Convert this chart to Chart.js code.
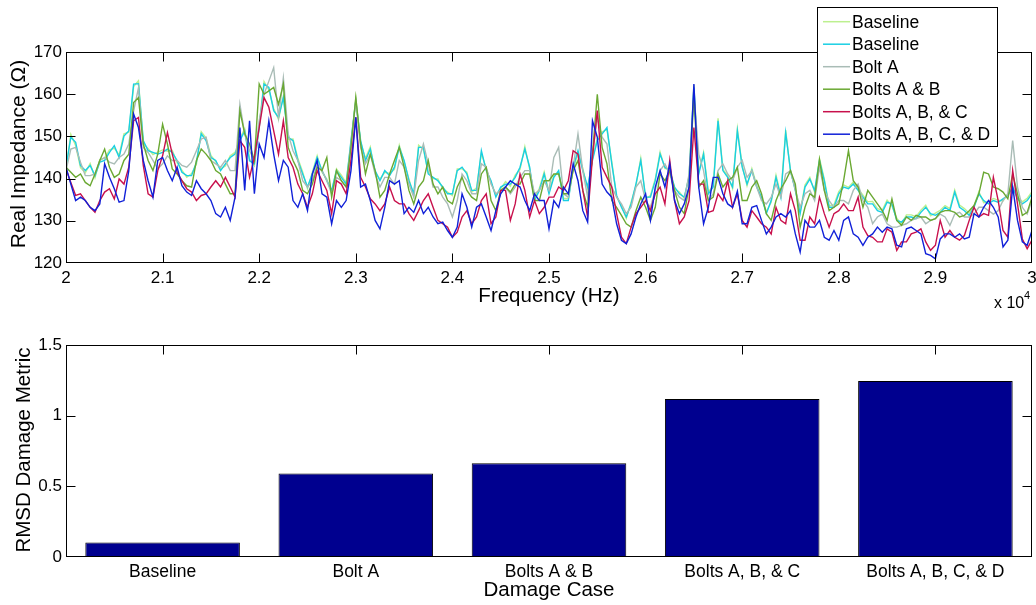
<!DOCTYPE html>
<html>
<head>
<meta charset="utf-8">
<script src="https://cdn.jsdelivr.net/npm/chart.js@4.4.1/dist/chart.umd.min.js"></script>
<style>
  html, body { margin: 0; padding: 0; background: #fff; }
  #wrap { position: relative; width: 1036px; height: 605px; overflow: hidden; }
  canvas { position: absolute; left: 0; }
</style>
</head>
<body>
<div id="wrap">
  <canvas id="impChart" width="1036" height="315" style="top:0"></canvas>
  <canvas id="rmsdChart" width="1036" height="290" style="top:315px"></canvas>
</div>
<script>
// frequency grid, 20 kHz .. 30 kHz every 50 Hz
var freqStart = 20000, freqStep = 50, freqCount = 201;
var freqs = [];
for (var i = 0; i < freqCount; i++) freqs.push(freqStart + i * freqStep);

var seriesLabels = ['Baseline', 'Baseline', 'Bolt A', 'Bolts A & B', 'Bolts A, B, & C', 'Bolts A, B, C, & D'];
var seriesColors = ['#bdf08f', '#19cfe3', '#a9bcb6', '#6aa832', '#c8104c', '#1020d8'];

// real impedance (ohm)
var baselineA = [
  142.2,150.5,147.8,142.6,141.4,143.6,140.2,144.5,144.8,146.8,147.2,145.6,150.6,151.0,161.8,163.2,148.4,147.1,145.7,146.3,146.8,146.5,146.7,143.8,142.0,140.3,141.2,143.4,151.1,
  149.6,145.5,144.0,142.3,143.0,145.4,146.2,149.5,151.8,144.6,143.0,152.6,163.0,161.0,156.6,154.0,159.6,149.3,149.4,144.8,141.6,137.6,141.5,145.4,141.5,139.9,136.8,142.3,
  140.8,139.0,148.5,159.0,148.6,144.8,147.5,141.4,139.9,141.5,141.2,142.2,147.9,144.0,139.9,136.0,147.9,146.9,141.5,140.0,139.9,137.6,136.8,136.0,142.3,142.3,141.5,136.8,
  137.8,146.0,142.4,139.0,136.1,137.6,139.3,138.2,140.8,142.2,147.6,142.2,135.4,137.7,141.6,136.9,140.8,141.4,135.3,135.3,142.2,146.1,142.4,137.5,144.8,149.5,151.1,151.6,
  144.0,135.6,133.6,130.6,134.4,138.3,144.8,135.2,136.0,139.9,146.3,142.4,142.3,137.6,136.8,135.3,140.7,162.2,141.5,146.2,136.8,138.4,154.3,142.2,140.7,137.7,151.8,143.1,
  138.3,142.4,138.5,135.2,132.2,134.4,140.8,136.1,151.5,141.6,137.7,132.2,138.5,140.3,136.8,144.8,139.9,133.6,133.8,136.9,138.5,137.9,139.2,137.6,136.1,134.5,134.6,132.9,
  132.5,134.9,133.5,130.6,129.2,131.4,131.4,131.0,132.5,133.7,131.2,131.8,132.5,133.6,132.9,137.3,133.7,132.9,131.8,133.6,136.9,134.3,134.5,135.3,134.9,134.7,136.5,137.5,135.7,134.5,135.3,136.9
];
var baselineB = [
  142.7,149.8,148.6,143.1,141.9,143.1,140.7,143.9,144.3,146.2,147.8,145.0,150.1,151.3,162.4,162.5,149.0,146.6,146.2,145.8,146.2,147.0,146.2,144.3,141.5,140.7,140.7,143.9,150.6,
  149.0,145.0,144.3,141.9,143.5,145.0,145.8,149.0,151.3,144.2,143.5,152.1,162.4,161.6,156.1,154.5,159.2,149.8,149.0,144.3,141.1,138.0,141.1,145.0,141.9,139.5,137.2,141.9,
  140.3,138.7,149.0,158.4,149.0,144.3,147.0,141.9,139.5,141.9,140.7,142.7,147.4,144.3,139.5,136.4,147.4,147.4,141.1,140.3,139.5,138.0,136.4,136.4,141.9,142.7,141.1,137.2,
  137.2,146.6,141.9,139.5,135.6,138.0,138.7,138.7,140.3,142.7,147.0,142.7,134.8,137.2,141.1,136.4,140.3,141.9,134.8,134.8,142.7,146.6,141.9,138.0,144.3,149.0,150.6,152.1,
  143.5,136.0,133.2,130.9,134.0,138.7,144.3,135.6,135.6,139.5,145.8,142.7,141.9,138.0,136.4,135.6,140.3,161.6,141.1,145.8,136.4,138.0,153.7,141.9,140.3,138.0,151.3,142.7,
  138.7,141.9,138.0,135.6,131.7,134.8,140.3,135.6,150.9,141.9,137.2,131.7,138.0,139.9,137.2,144.3,139.5,133.2,133.2,136.4,138.0,137.6,138.7,137.2,135.6,134.0,134.0,132.4,
  132.0,134.4,134.0,130.1,129.7,130.9,130.9,130.5,132.0,133.2,131.7,131.3,132.0,133.2,132.4,136.8,133.2,132.4,131.3,133.2,136.4,134.8,134.0,134.8,134.4,135.2,136.0,138.0,135.2,134.0,134.8,136.4
];
var boltA = [
  141.9,147.0,147.4,143.9,140.7,140.7,141.1,144.3,145.0,143.9,143.5,145.0,145.8,148.2,156.0,161.5,147.4,146.2,144.3,142.3,143.5,145.4,144.3,144.3,143.1,142.7,143.9,146.6,149.4,
  149.8,144.3,143.5,142.7,144.3,141.9,141.9,157.6,150.6,146.6,144.3,153.7,160.0,163.1,166.3,154.5,163.9,150.6,146.6,144.3,139.5,138.0,139.5,143.5,141.9,139.5,136.4,140.3,
  139.5,138.0,148.2,158.4,147.4,143.5,145.8,141.1,138.0,140.3,140.3,138.7,144.3,142.7,138.7,135.6,144.3,148.2,143.5,138.0,138.0,135.6,134.0,130.9,134.8,141.1,139.5,136.4,
  136.4,143.5,142.7,138.7,136.4,137.2,138.0,136.4,138.0,140.3,141.9,141.9,136.4,137.2,139.5,137.2,145.0,147.4,136.4,135.6,142.7,150.6,141.9,135.6,145.8,154.5,149.8,148.2,
  138.0,135.6,134.0,131.7,133.2,138.0,139.5,134.8,133.2,137.2,141.9,143.5,141.1,137.2,135.6,134.8,141.1,160.0,145.8,141.9,134.8,136.4,141.9,143.5,141.1,139.5,142.7,144.3,
  140.3,141.9,138.0,134.8,134.0,135.6,138.7,135.6,141.1,141.9,137.2,133.2,136.4,137.2,134.8,142.7,137.2,134.8,133.2,134.8,134.8,134.0,137.2,138.7,134.8,133.2,129.3,130.9,
  131.6,129.3,128.5,128.5,128.9,129.3,130.1,130.5,130.9,129.3,130.1,130.5,131.6,130.9,128.9,131.6,132.0,130.9,130.9,131.6,133.2,133.2,132.4,131.6,132.4,134.8,136.4,149.0,138.0,133.2,131.6,134.8
];
var boltsAB = [
  142.7,141.5,140.3,141.1,139.1,138.3,141.1,144.3,147.0,142.7,140.3,141.1,144.3,145.8,158.0,159.2,148.2,144.3,141.9,145.8,152.9,148.2,142.3,141.1,139.5,138.3,138.0,144.3,147.0,
  145.8,144.3,141.9,141.1,138.7,136.4,136.4,156.1,150.6,148.2,144.3,162.4,160.0,160.8,161.6,157.6,162.4,147.4,144.3,141.9,137.2,136.4,138.7,142.7,141.9,145.0,135.6,141.9,
  139.5,138.0,147.4,159.2,148.2,141.1,145.8,141.9,135.6,137.2,141.1,144.3,147.4,142.7,137.2,134.0,138.0,139.5,144.3,138.7,136.4,138.0,134.8,134.0,138.0,140.3,137.2,135.6,
  134.8,141.1,142.7,134.8,132.4,137.2,138.0,136.8,138.7,138.7,141.1,141.1,134.8,134.8,139.5,139.5,141.1,141.1,136.4,136.4,141.9,144.3,137.2,133.2,145.8,160.0,147.4,143.5,
  134.8,133.2,131.3,129.3,128.5,132.4,135.6,133.2,130.1,133.2,141.1,139.5,141.9,137.2,133.2,131.7,138.0,160.0,138.0,139.5,134.8,135.6,141.1,138.0,139.5,140.3,142.7,134.8,
  134.8,138.0,139.5,136.4,131.7,130.1,134.8,137.6,139.5,141.9,138.7,128.5,133.2,136.4,135.6,144.5,137.2,132.4,133.2,134.0,139.5,146.6,139.5,138.0,133.2,137.2,135.6,134.0,
  132.4,130.1,135.2,130.1,128.9,130.9,130.1,131.3,130.9,130.9,130.1,130.5,132.0,132.4,132.4,132.0,130.9,131.3,132.4,133.6,136.4,141.5,141.1,138.0,137.6,136.8,135.2,141.1,136.4,131.3,132.0,135.6
];
var boltsABC = [
  142.3,139.1,136.0,136.4,134.8,133.2,132.0,134.8,136.8,137.6,135.2,139.9,138.7,142.7,153.7,154.5,143.1,136.4,135.6,141.9,145.4,150.9,145.8,141.5,139.5,137.6,136.8,134.8,136.0,
  136.4,138.0,139.5,138.0,140.3,138.0,135.6,149.0,147.4,140.3,145.0,152.1,159.2,156.9,151.3,145.8,153.7,145.0,142.7,138.7,136.4,133.2,136.4,141.9,139.5,137.2,131.7,139.5,
  138.7,136.4,144.3,154.5,140.3,138.0,135.2,134.0,132.4,134.0,138.0,134.8,134.0,134.0,131.7,130.1,132.4,134.8,136.4,133.2,130.1,129.3,128.5,126.1,127.3,130.9,132.4,129.3,
  130.9,134.8,136.4,129.3,130.9,137.2,137.2,130.1,134.0,141.1,137.2,130.9,134.8,131.7,133.2,135.6,135.6,138.0,137.2,139.5,146.6,145.8,137.2,130.9,145.0,156.1,142.7,140.3,
  138.0,131.7,126.1,124.6,128.5,131.7,133.2,134.8,132.4,136.4,138.0,134.0,144.3,134.8,129.3,130.9,134.8,152.1,138.7,138.7,132.0,132.4,136.4,134.8,139.5,133.2,136.4,130.1,
  128.5,132.4,130.9,129.3,128.5,126.9,133.2,130.1,129.3,136.4,132.4,125.4,125.4,130.9,129.3,135.6,131.7,128.5,131.7,132.4,134.0,132.4,132.4,135.6,128.5,126.5,126.1,125.0,
  125.0,128.1,127.3,123.0,125.0,125.0,126.9,127.3,128.1,125.0,123.0,124.2,130.1,126.1,127.7,126.1,125.4,126.5,130.1,133.2,130.9,131.7,131.3,140.3,134.8,127.7,126.1,141.9,134.0,125.7,123.4,125.4
];
var boltsABCD = [
  142.7,138.7,134.8,135.6,134.8,133.2,132.4,134.0,143.5,140.3,137.6,134.4,134.8,141.9,155.3,152.1,144.3,139.5,135.6,144.3,145.0,141.9,139.5,142.7,138.3,136.8,136.0,139.5,137.6,
  136.4,134.8,131.7,130.9,133.2,130.1,135.6,152.1,137.2,153.7,136.4,148.2,145.0,153.7,145.8,139.5,144.3,142.7,134.8,133.2,136.4,132.4,141.1,144.3,136.4,135.6,129.3,134.8,
  133.2,134.8,141.9,154.5,138.0,138.7,134.8,130.1,128.1,133.2,139.5,138.7,139.5,131.7,133.2,132.0,134.8,131.7,133.2,130.9,129.3,129.7,127.7,126.1,128.5,136.4,133.2,128.5,
  133.2,134.0,130.9,127.7,132.4,136.4,138.0,139.5,138.7,138.0,134.8,132.4,136.4,134.8,134.8,128.1,134.8,133.2,138.0,136.4,143.5,139.5,132.4,129.7,153.7,149.8,138.7,136.8,
  135.6,129.3,125.4,124.6,126.9,130.9,134.0,136.4,130.1,138.0,141.9,138.0,143.5,134.8,131.7,134.0,138.0,162.4,138.0,129.3,133.2,140.3,140.3,136.4,134.0,133.2,137.0,129.3,
  129.3,133.2,133.6,130.1,126.9,128.5,130.9,131.7,130.9,132.4,126.9,122.6,130.1,128.5,128.5,130.1,126.1,125.4,127.7,125.4,130.1,130.9,126.9,126.1,124.2,126.1,126.9,128.5,
  127.3,128.5,128.1,124.2,123.8,128.1,128.5,127.7,126.9,122.2,121.8,121.0,125.7,126.9,126.9,126.1,126.9,125.7,126.1,131.7,130.9,133.2,134.8,133.2,130.9,123.8,125.4,138.0,130.1,125.0,124.2,127.7
];

// bar chart
var caseLabels = ['Baseline', 'Bolt A', 'Bolts A & B', 'Bolts A, B, & C', 'Bolts A, B, C, & D'];
var rmsdValues = [0.102, 0.591, 0.664, 1.118, 1.245];

var FONT = '"Liberation Sans", Arial, Helvetica, sans-serif';
var TICK = 9;

function toPoints(arr) {
  return arr.map(function(v, i) { return { x: freqs[i], y: v }; });
}

function text(ctx, s, x, y, size, align, base, rot) {
  ctx.save();
  ctx.font = size + 'px ' + FONT;
  ctx.fillStyle = '#000';
  ctx.textAlign = align;
  ctx.textBaseline = base;
  ctx.translate(x, y);
  if (rot) ctx.rotate(rot);
  ctx.fillText(s, 0, 0);
  ctx.restore();
}

// box + inward ticks, matlab style
function drawBox(chart, xTop, xBottom) {
  var ctx = chart.ctx, a = chart.chartArea;
  var L = Math.round(a.left) + 0.5, R = Math.round(a.right) - 0.5;
  var T = Math.round(a.top) + 0.5, B = Math.round(a.bottom) - 0.5;
  ctx.save();
  ctx.strokeStyle = '#000';
  ctx.lineWidth = 1;
  ctx.strokeRect(L, T, R - L, B - T);
  ctx.beginPath();
  var xs = chart.scales.x;
  xs.ticks.forEach(function(t, i) {
    var px = Math.round(xs.getPixelForTick(i)) + 0.5;
    if (px <= L + 1 || px >= R - 1) return;
    if (xTop) { ctx.moveTo(px, T); ctx.lineTo(px, T + TICK); }
    if (xBottom) { ctx.moveTo(px, B); ctx.lineTo(px, B - TICK); }
  });
  var ys = chart.scales.y;
  ys.ticks.forEach(function(t) {
    var py = Math.round(ys.getPixelForValue(t.value)) + 0.5;
    if (py <= T + 1 || py >= B - 1) return;
    ctx.moveTo(L, py); ctx.lineTo(L + TICK, py);
    ctx.moveTo(R, py); ctx.lineTo(R - TICK, py);
  });
  ctx.stroke();
  ctx.restore();
}

function fitX(h) {
  return function(s) { s.height = h; s.paddingLeft = 0; s.paddingRight = 0; };
}
function fitY(w) {
  return function(s) { s.width = w; s.paddingTop = 0; s.paddingBottom = 0; };
}

var impDecor = {
  id: 'impDecor',
  afterDraw: function(chart) {
    var ctx = chart.ctx;
    drawBox(chart, true, true);
    text(ctx, 'Real Impedance (\u03A9)', 19.5, 154, 21, 'center', 'middle', -Math.PI / 2);
    text(ctx, 'Frequency (Hz)', 549, 302, 20.5, 'center', 'alphabetic');
    text(ctx, 'x 10', 994, 308, 16, 'left', 'alphabetic');
    text(ctx, '4', 1024, 299, 11, 'left', 'alphabetic');

    // legend box
    ctx.save();
    ctx.fillStyle = '#fff';
    ctx.strokeStyle = '#000';
    ctx.lineWidth = 1;
    ctx.fillRect(817.5, 7.5, 180, 139);
    ctx.strokeRect(817.5, 7.5, 180, 139);
    for (var i = 0; i < seriesLabels.length; i++) {
      var y = 21.7 + i * 22.5;
      ctx.strokeStyle = seriesColors[i];
      ctx.lineWidth = 1.5;
      ctx.beginPath();
      ctx.moveTo(823, y);
      ctx.lineTo(850, y);
      ctx.stroke();
      text(ctx, seriesLabels[i], 852, y + 1, 17.5, 'left', 'middle');
    }
    ctx.restore();
  }
};

var rmsdDecor = {
  id: 'rmsdDecor',
  afterDraw: function(chart) {
    var ctx = chart.ctx;
    drawBox(chart, true, false);
    text(ctx, 'RMSD Damage Metric', 24, 135, 20.5, 'center', 'middle', -Math.PI / 2);
    text(ctx, 'Damage Case', 549, 281, 20.5, 'center', 'alphabetic');
  }
};

var order = [6, 5, 4, 3, 2, 1];
var allSeries = [baselineA, baselineB, boltA, boltsAB, boltsABC, boltsABCD];

new Chart(document.getElementById('impChart'), {
  type: 'line',
  data: {
    datasets: allSeries.map(function(arr, k) {
      return {
        label: seriesLabels[k],
        data: toPoints(arr),
        borderColor: seriesColors[k],
        backgroundColor: seriesColors[k],
        borderWidth: 1.4,
        pointRadius: 0,
        tension: 0,
        fill: false,
        order: order[k]
      };
    })
  },
  options: {
    responsive: false,
    devicePixelRatio: 1,
    animation: false,
    events: [],
    layout: { padding: { top: 52, right: 4, left: 0, bottom: 0 } },
    plugins: { legend: { display: false }, tooltip: { enabled: false } },
    scales: {
      x: {
        type: 'linear', min: 20000, max: 30000,
        afterFit: fitX(52),
        grid: { display: false, drawTicks: false },
        border: { display: false },
        ticks: {
          stepSize: 1000, autoSkip: false, maxRotation: 0, padding: 5,
          color: '#000', font: { family: FONT, size: 17 },
          callback: function(v) { return String(v / 10000); }
        }
      },
      y: {
        min: 120, max: 170,
        afterFit: fitY(66),
        grid: { display: false, drawTicks: false },
        border: { display: false },
        ticks: { stepSize: 10, padding: 4, color: '#000', font: { family: FONT, size: 17 } }
      }
    }
  },
  plugins: [impDecor]
});

new Chart(document.getElementById('rmsdChart'), {
  type: 'bar',
  data: {
    labels: caseLabels,
    datasets: [{
      data: rmsdValues,
      backgroundColor: 'rgb(0,0,143)',
      borderColor: '#000',
      borderWidth: 1,
      categoryPercentage: 1.0,
      barPercentage: 0.8
    }]
  },
  options: {
    responsive: false,
    devicePixelRatio: 1,
    animation: false,
    events: [],
    layout: { padding: { top: 30, right: 4, left: 0, bottom: 0 } },
    plugins: { legend: { display: false }, tooltip: { enabled: false } },
    scales: {
      x: {
        afterFit: fitX(48),
        grid: { display: false, drawTicks: false },
        border: { display: false },
        ticks: { autoSkip: false, maxRotation: 0, padding: 5, color: '#000', font: { family: FONT, size: 17.5 } }
      },
      y: {
        min: 0, max: 1.5,
        afterFit: fitY(66),
        grid: { display: false, drawTicks: false },
        border: { display: false },
        ticks: {
          stepSize: 0.5, padding: 4, color: '#000', font: { family: FONT, size: 17 },
          callback: function(v) { return String(v); }
        }
      }
    }
  },
  plugins: [rmsdDecor]
});
</script>
</body>
</html>
